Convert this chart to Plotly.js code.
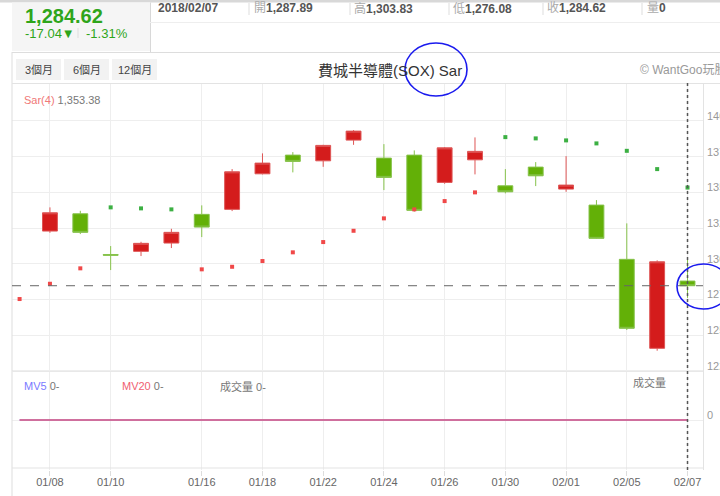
<!DOCTYPE html>
<html>
<head>
<meta charset="utf-8">
<script src="https://cdn.plot.ly/plotly-3.0.1.min.js"></script>
<style>
html,body{margin:0;padding:0;background:#fff;}
#chart{width:720px;height:496px;}
</style>
</head>
<body>
<div id="chart"></div>
<script>
// ---- data ----
var dates = ['01/05','01/08','01/09','01/10','01/11','01/12','01/16','01/17','01/18','01/19','01/22','01/23','01/24','01/25','01/26','01/29','01/30','01/31','02/01','02/02','02/05','02/06','02/07'];
var openV  = [null,1322.9,1335.0,1306.5,1308.7,1314.5,1334.6,1338.1,1363.0,1376.1,1372.1,1386.6,1374.0,1376.1,1357.0,1372.8,1354.6,1367.7,1352.3,1341.1,1303.1,1240.8,1287.89];
var highV  = [null,1339.5,1337.1,1312.4,1315.4,1324.5,1340.9,1366.3,1377.3,1378.2,1383.3,1393.6,1383.8,1379.4,1381.7,1388.5,1366.3,1371.2,1375.4,1344.6,1328.3,1302.4,1303.83];
var lowV   = [null,1321.7,1320.8,1295.6,1305.4,1311.0,1318.7,1336.9,1362.6,1364.0,1367.9,1383.3,1351.6,1336.5,1356.0,1362.6,1349.3,1354.4,1350.4,1317.5,1253.6,1239.1,1276.08];
var closeV = [null,1335.7,1322.0,1306.0,1314.3,1322.0,1325.7,1364.4,1370.5,1371.7,1382.9,1392.9,1360.5,1337.4,1381.2,1378.7,1350.4,1361.6,1355.1,1317.8,1254.8,1301.4,1284.62];
var sarV   = [1275.3,1286.0,1296.8,1339.5,1338.8,1338.1,1296.1,1297.9,1301.9,1308.0,1315.2,1323.1,1331.8,1338.1,1343.9,1350.0,1388.7,1387.8,1386.4,1384.3,1379.1,1366.3,1353.38];
// SAR trend: 1 = below price (rising, red), 0 = above price (falling, green)
var sarTrend = [1,1,1,0,0,0,1,1,1,1,1,1,1,1,1,1,0,0,0,0,0,0,0];
var volumeV = [0,0,0,0,0,0,0,0,0,0,0,0,0,0,0,0,0,0,0,0,0,0,0];
var mv5V    = [0,0,0,0,0,0,0,0,0,0,0,0,0,0,0,0,0,0,0,0,0,0,0];
var mv20V   = [0,0,0,0,0,0,0,0,0,0,0,0,0,0,0,0,0,0,0,0,0,0,0];
var tickDates = ['01/08','01/10','01/16','01/18','01/22','01/24','01/26','01/30','02/01','02/05','02/07'];
var priceTicks = [1225,1250,1275,1300,1325,1350,1375,1400];
var header = {date:'2018/02/07', open:'1,287.89', high:'1,303.83', low:'1,276.08', close:'1,284.62', vol:'0', last:'1,284.62', chg:'-17.04', pct:'-1.31%'};
var titleText = '費城半導體(SOX) Sar';

// ---- layout helpers (pixel -> paper) ----
var W = 720, H = 496, L = 12, R = 703, T = 83, B = 470;
function px(x){ return (x - L) / (R - L); }
function py(y){ return (B - y) / (B - T); }
var splitY = 372;
var FONT = 'Liberation Sans, Arial, Noto Sans CJK TC, sans-serif';

var RED = '#d41c1c', GREEN = '#63b007';

var sarUp = sarV.map(function(v,i){ return sarTrend[i] ? v : null; });
var sarDn = sarV.map(function(v,i){ return sarTrend[i] ? null : v; });

var traces = [
  {type:'bar', x:dates, y:volumeV, xaxis:'x', yaxis:'y2', marker:{color:'#999'}, hoverinfo:'skip'},
  {type:'scatter', mode:'lines', x:dates, y:mv5V, xaxis:'x', yaxis:'y2', line:{color:'#7f7fff', width:1.5}, hoverinfo:'skip'},
  {type:'scatter', mode:'lines', x:dates, y:mv20V, xaxis:'x', yaxis:'y2', line:{color:'#e0607e', width:1.5}, hoverinfo:'skip'},
  {type:'candlestick', x:dates, open:openV, high:highV, low:lowV, close:closeV, xaxis:'x', yaxis:'y',
   increasing:{line:{color:'#de5555', width:1}, fillcolor:RED},
   decreasing:{line:{color:'#86c24a', width:1}, fillcolor:GREEN},
   whiskerwidth:0, hoverinfo:'skip'},
  {type:'scatter', mode:'markers', x:dates, y:sarUp, xaxis:'x', yaxis:'y', marker:{symbol:'square', size:4, color:'#f04848'}, hoverinfo:'skip'},
  {type:'scatter', mode:'markers', x:dates, y:sarDn, xaxis:'x', yaxis:'y', marker:{symbol:'square', size:4, color:'#3cb043'}, hoverinfo:'skip'}
];

var lastClose = closeV[closeV.length-1];
var lastDate = dates[dates.length-1];

var shapes = [
  // top gray strip
  {type:'rect', xref:'paper', yref:'paper', x0:px(0), x1:px(720), y0:py(0), y1:py(2.5), fillcolor:'#d8d8d8', line:{width:0}, layer:'below'},
  // header left box
  {type:'rect', xref:'paper', yref:'paper', x0:px(12), x1:px(150), y0:py(51), y1:py(2.5), fillcolor:'#f5f5f5', line:{width:0}, layer:'below'},
  {type:'line', xref:'paper', yref:'paper', x0:px(150.5), x1:px(150.5), y0:py(2.5), y1:py(52), line:{color:'#d8d8d8', width:1}},
  {type:'line', xref:'paper', yref:'paper', x0:px(150), x1:px(720), y0:py(22.5), y1:py(22.5), line:{color:'#eeeeee', width:1}},
  {type:'line', xref:'paper', yref:'paper', x0:px(12), x1:px(720), y0:py(52.5), y1:py(52.5), line:{color:'#dddddd', width:1}},
  {type:'line', xref:'paper', yref:'paper', x0:px(12), x1:px(12), y0:py(52), y1:py(496), line:{color:'#dddddd', width:1}},
  {type:'line', xref:'paper', yref:'paper', x0:px(12), x1:px(720), y0:py(83.5), y1:py(83.5), line:{color:'#e3e3e3', width:1}},
  {type:'line', xref:'paper', yref:'paper', x0:px(703.5), x1:px(703.5), y0:py(83), y1:py(470), line:{color:'#e3e3e3', width:1}},
  {type:'line', xref:'paper', yref:'paper', x0:px(12), x1:px(703), y0:py(371.5), y1:py(371.5), line:{color:'#e8e8e8', width:1}},
  {type:'line', xref:'paper', yref:'paper', x0:px(12), x1:px(703), y0:py(468), y1:py(468), line:{color:'#e3e3e3', width:1}},
  // header separators
  {type:'line', xref:'paper', yref:'paper', x0:px(249), x1:px(249), y0:py(3), y1:py(15), line:{color:'#dddddd', width:1}},
  {type:'line', xref:'paper', yref:'paper', x0:px(350), x1:px(350), y0:py(3), y1:py(15), line:{color:'#dddddd', width:1}},
  {type:'line', xref:'paper', yref:'paper', x0:px(449), x1:px(449), y0:py(3), y1:py(15), line:{color:'#dddddd', width:1}},
  {type:'line', xref:'paper', yref:'paper', x0:px(543), x1:px(543), y0:py(3), y1:py(15), line:{color:'#dddddd', width:1}},
  {type:'line', xref:'paper', yref:'paper', x0:px(642), x1:px(642), y0:py(3), y1:py(15), line:{color:'#dddddd', width:1}},
  {type:'line', xref:'paper', yref:'paper', x0:px(78), x1:px(78), y0:py(28), y1:py(38), line:{color:'#dddddd', width:1}},
  // buttons
  {type:'rect', xref:'paper', yref:'paper', x0:px(16), x1:px(61), y0:py(80), y1:py(59), fillcolor:'#f2f2f2', line:{width:0}, layer:'below'},
  {type:'rect', xref:'paper', yref:'paper', x0:px(64), x1:px(109), y0:py(80), y1:py(59), fillcolor:'#f2f2f2', line:{width:0}, layer:'below'},
  {type:'rect', xref:'paper', yref:'paper', x0:px(112), x1:px(157), y0:py(80), y1:py(59), fillcolor:'#f2f2f2', line:{width:0}, layer:'below'},
  // current price line and crosshair
  {type:'line', xref:'paper', yref:'y', x0:0, x1:1, y0:lastClose, y1:lastClose, line:{color:'#666', width:1, dash:'dash'}},
  {type:'line', xref:'x', yref:'paper', x0:lastDate, x1:lastDate, y0:0, y1:1, line:{color:'#555', width:1.5, dash:'dot'}},
  // hand-drawn blue marks
  {type:'circle', xref:'paper', yref:'paper', x0:px(405), x1:px(467), y0:py(96), y1:py(43), line:{color:'#1a1aee', width:1.6}},
  {type:'circle', xref:'paper', yref:'paper', x0:px(677), x1:px(730), y0:py(309), y1:py(264), line:{color:'#1a1aee', width:1.6}}
];

function ann(x, y, text, opts){
  var a = {xref:'paper', yref:'paper', x:px(x), y:py(y), text:text, showarrow:false,
           xanchor:'left', yanchor:'middle', font:{family:FONT, size:11, color:'#666'}};
  for (var k in opts) a[k] = opts[k];
  return a;
}

var annotations = [
  ann(23, 16, '<b>' + header.last + '</b>', {font:{family:FONT, size:20, color:'#2ea51a'}}),
  ann(23, 33, header.chg + '▼', {font:{family:FONT, size:13, color:'#2ea51a'}}),
  ann(84, 33, header.pct, {font:{family:FONT, size:13, color:'#2ea51a'}}),
  ann(156, 8, '<b>' + header.date + '</b>', {font:{family:FONT, size:12, color:'#555'}}),
  ann(252, 8, '<span style="color:#aaa">開</span><b>' + header.open + '</b>', {font:{family:FONT, size:12, color:'#555'}}),
  ann(352, 8, '<span style="color:#aaa">高</span><b>' + header.high + '</b>', {font:{family:FONT, size:12, color:'#555'}}),
  ann(451, 8, '<span style="color:#aaa">低</span><b>' + header.low + '</b>', {font:{family:FONT, size:12, color:'#555'}}),
  ann(545, 8, '<span style="color:#aaa">收</span><b>' + header.close + '</b>', {font:{family:FONT, size:12, color:'#555'}}),
  ann(645, 8, '<span style="color:#aaa">量</span><b>' + header.vol + '</b>', {font:{family:FONT, size:12, color:'#555'}}),
  ann(38.5, 70, '3個月', {xanchor:'center', font:{family:FONT, size:11, color:'#444'}}),
  ann(86.5, 70, '6個月', {xanchor:'center', font:{family:FONT, size:11, color:'#444'}}),
  ann(134.5, 70, '12個月', {xanchor:'center', font:{family:FONT, size:11, color:'#444'}}),
  ann(390, 70, titleText, {xanchor:'center', font:{family:FONT, size:15, color:'#333'}}),
  ann(638, 70, '© WantGoo玩股網', {font:{family:FONT, size:12, color:'#999'}}),
  ann(22, 100, '<span style="color:#f07878">Sar(4)</span> ' + sarV[sarV.length-1].toLocaleString('en-US',{minimumFractionDigits:2}), {font:{family:FONT, size:11, color:'#777'}}),
  ann(22, 386, '<span style="color:#7a7aff">MV5</span> 0-', {font:{family:FONT, size:11, color:'#777'}}),
  ann(120, 386, '<span style="color:#f06070">MV20</span> 0-', {font:{family:FONT, size:11, color:'#777'}}),
  ann(218, 386, '成交量 0-', {font:{family:FONT, size:11, color:'#777'}}),
  ann(668, 382, '成交量', {xanchor:'right', font:{family:FONT, size:11, color:'#777'}})
];

var layout = {
  width: W, height: H,
  margin: {l: L, r: W - R, t: T, b: H - B, pad: 0},
  paper_bgcolor: '#fff', plot_bgcolor: '#fff',
  showlegend: false,
  dragmode: false,
  xaxis: {type:'category', categoryorder:'array', categoryarray:dates, range:[-0.25, 22.51],
          tickmode:'array', tickvals:tickDates, ticktext:tickDates,
          showgrid:true, gridcolor:'#eeeeee', gridwidth:1, anchor:'y2',
          ticks:'outside', ticklen:5, tickcolor:'#dddddd', showline:false, zeroline:false,
          ticklabelstandoff:-3,
          tickfont:{family:FONT, size:11, color:'#666'},
          rangeslider:{visible:false}, fixedrange:true},
  yaxis: {domain:[py(splitY), 1], range:[1224.2, 1426.6], side:'right', anchor:'x',
          tickmode:'array', tickvals:priceTicks, ticktext:priceTicks.map(String),
          showgrid:true, gridcolor:'#eeeeee', zeroline:false, showline:false, ticks:'',
          ticklabelstandoff:3, ticklabelshift:-5,
          tickfont:{family:FONT, size:11, color:'#999'}, fixedrange:true},
  yaxis2: {domain:[0, py(splitY)], range:[-1.04, 1], side:'right', anchor:'x',
           tickmode:'array', tickvals:[0], ticktext:['0'],
           showgrid:true, gridcolor:'#eeeeee', zeroline:false, showline:false, ticks:'',
           ticklabelstandoff:3, ticklabelshift:-5,
           tickfont:{family:FONT, size:11, color:'#999'}, fixedrange:true},
  boxgap: 0.3,
  shapes: shapes,
  annotations: annotations
};

Plotly.newPlot('chart', traces, layout, {displayModeBar:false, staticPlot:true});
</script>
</body>
</html>
